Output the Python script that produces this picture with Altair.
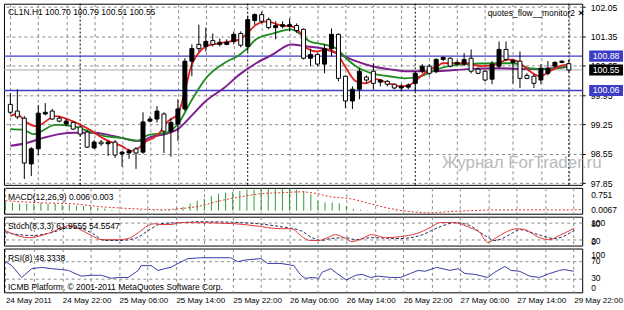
import altair as alt
import pandas as pd

FONT = "Liberation Sans"
W = 581
H_MAIN, H_MACD, H_STO, H_RSI = 182, 26, 29, 44
GRID = "#8a8a8a"
BLUE = "#3c3cc8"

# ---------------- data (bar 0 = 24 May 14:00, bar 80 = 29 May 22:00) ----------------
bar_open = [99.73, 99.57, 99.40, 98.31, 98.67, 99.50, 99.57, 99.40, 99.26, 99.30,
            99.19, 99.07, 98.69, 98.83, 98.79, 98.83, 98.55, 98.57, 98.67, 98.59,
            99.33, 99.38, 99.50, 99.09, 99.26, 99.62, 100.76, 101.16, 101.11, 101.25,
            101.16, 101.16, 101.23, 101.42, 101.11, 101.73, 101.87, 101.75, 101.56, 101.59,
            101.59, 101.61, 101.52, 100.83, 100.92, 100.69, 101.06, 101.40, 100.40, 99.81,
            100.09, 100.38, 100.52, 100.26, 100.28, 100.21, 100.12, 100.14, 100.23, 100.52,
            100.64, 100.52, 100.80, 100.83, 100.69, 100.69, 100.83, 100.57, 100.52, 100.33,
            100.64, 101.04, 100.73, 100.76, 100.42, 100.40, 100.31, 100.47, 100.64, 100.73,
            100.70]
bar_close = [99.54, 99.43, 98.33, 98.67, 99.52, 99.54, 99.38, 99.33, 99.33, 99.14,
             99.02, 98.71, 98.83, 98.79, 98.83, 98.52, 98.59, 98.62, 98.57, 99.31,
             99.38, 99.57, 99.09, 99.30, 99.62, 100.76, 101.06, 101.06, 101.23, 101.16,
             101.21, 101.21, 101.40, 101.14, 101.75, 101.87, 101.71, 101.56, 101.61, 101.63,
             101.63, 101.49, 100.83, 100.92, 100.69, 101.06, 101.40, 100.35, 99.81, 100.09,
             100.52, 100.31, 100.23, 100.31, 100.21, 100.12, 100.16, 100.19, 100.47, 100.64,
             100.47, 100.80, 100.85, 100.64, 100.73, 100.80, 100.52, 100.47, 100.31, 100.69,
             101.04, 100.80, 100.78, 100.35, 100.35, 100.23, 100.59, 100.59, 100.73, 100.76,
             100.55]
bar_high = [100.00, 100.09, 99.45, 98.71, 99.71, 99.76, 99.62, 99.45, 99.38, 99.31,
            99.24, 99.12, 98.88, 98.88, 98.86, 98.88, 98.62, 98.67, 98.71, 99.54,
            99.45, 99.69, 99.54, 99.40, 99.85, 100.83, 101.16, 101.63, 101.56, 101.42,
            101.30, 101.28, 101.47, 101.47, 101.84, 101.90, 101.94, 101.80, 101.71, 101.71,
            101.78, 101.66, 101.54, 101.06, 100.95, 101.16, 101.54, 101.42, 100.42, 100.16,
            100.59, 100.42, 100.71, 100.33, 100.31, 100.23, 100.21, 100.23, 100.52, 100.69,
            100.69, 100.83, 100.87, 100.85, 100.78, 100.95, 101.04, 100.61, 100.54, 100.76,
            101.23, 101.23, 100.80, 100.99, 100.47, 100.45, 100.69, 100.76, 100.76, 100.78,
            100.79]
bar_low = [99.50, 99.38, 97.95, 98.02, 98.52, 99.47, 99.36, 99.30, 99.21, 99.12,
           98.97, 98.69, 98.67, 98.74, 98.50, 98.45, 98.24, 98.43, 98.19, 98.55,
           99.30, 99.30, 98.57, 98.48, 98.86, 99.57, 100.40, 100.99, 100.99, 101.11,
           101.11, 101.14, 101.16, 101.09, 100.99, 101.63, 101.66, 101.52, 101.28, 101.54,
           101.47, 101.44, 100.80, 100.64, 100.64, 100.47, 100.87, 100.28, 99.64, 99.62,
           99.85, 100.23, 100.09, 100.16, 100.16, 100.09, 100.04, 100.09, 100.04, 100.47,
           100.42, 100.47, 100.76, 100.61, 100.66, 100.64, 100.47, 100.45, 100.28, 100.21,
           100.59, 100.76, 100.23, 100.12, 100.33, 100.12, 100.21, 100.42, 100.61, 100.71,
           100.51]

red_k = [0, 0.9, 2.3, 3.7, 6.5, 8.9, 11.2, 13.5, 15.9, 17.3, 18.2, 19.6, 20.5, 21.2, 22.6,
         24.0, 25.0, 25.9, 26.8, 28.0, 29.7, 31.5, 32.9, 33.9, 35.2, 36.7, 38.8, 40.2, 41.6,
         42.5, 43.9, 45.3, 46.7, 48.1, 49.5, 50.9, 52.3, 54.2, 56.0, 57.4, 58.8, 60.2, 61.2,
         61.9, 65.1, 67.5, 69.8, 71.2, 72.6, 74.0, 75.9, 77.3, 78.7, 80.1]
red_v = [99.45, 99.50, 99.30, 99.21, 99.45, 99.33, 99.14, 98.90, 98.74, 98.62, 98.67, 98.86,
         98.93, 99.02, 99.33, 99.50, 100.04, 100.64, 100.92, 101.11, 101.18, 101.23, 101.28,
         101.42, 101.63, 101.71, 101.61, 101.59, 101.42, 101.06, 100.99, 101.04, 100.95,
         100.59, 100.28, 100.23, 100.33, 100.23, 100.16, 100.21, 100.40, 100.57, 100.64,
         100.71, 100.71, 100.64, 100.69, 100.80, 100.76, 100.57, 100.40, 100.52, 100.64, 100.69]
green_k = [0, 1.9, 3.3, 6.5, 8.9, 11.2, 13.5, 15.9, 18.2, 19.8, 22.2, 24.0, 25.9, 28.0, 30.6,
           32.9, 33.9, 35.2, 37.6, 40.2, 41.6, 42.9, 44.8, 46.7, 48.1, 49.5, 51.8, 54.2, 56.5,
           58.8, 61.2, 62.8, 65.1, 69.8, 72.1, 74.5, 76.9, 80.1]
green_v = [99.14, 99.12, 99.02, 99.24, 99.21, 99.09, 98.97, 98.93, 98.86, 99.00, 99.05, 99.26,
           99.81, 100.35, 100.71, 100.92, 101.06, 101.28, 101.42, 101.52, 101.40, 101.23,
           101.16, 101.06, 100.83, 100.64, 100.47, 100.40, 100.35, 100.40, 100.57, 100.64,
           100.69, 100.71, 100.71, 100.59, 100.57, 100.64]
purple_k = [0, 2.3, 4.7, 7.0, 9.3, 12.1, 13.5, 15.9, 18.2, 19.1, 19.8, 22.2, 24.0, 25.9, 28.0,
            30.6, 32.9, 35.2, 37.6, 40.2, 42.5, 44.8, 47.2, 49.5, 51.8, 54.2, 56.5, 61.2, 65.4,
            69.8, 74.5, 79.1, 80.1]
purple_v = [98.74, 98.81, 98.93, 99.02, 99.05, 99.05, 99.02, 98.93, 98.86, 98.86, 98.93, 99.02,
            99.14, 99.45, 99.81, 100.12, 100.45, 100.71, 100.92, 101.16, 101.11, 101.06, 100.92,
            100.76, 100.64, 100.57, 100.52, 100.52, 100.57, 100.59, 100.57, 100.61, 100.64]

macd_hist = [0.26, 0.26, 0.23, 0.23, 0.23, 0.26, 0.23, 0.23, 0.20, 0.20,
             0.16, 0.16, 0.13, 0.10, 0.07, 0.03, 0.02, 0.01, 0.01, 0.02,
             0.03, 0.02, 0.03, 0.03, 0.07, 0.13, 0.23, 0.33, 0.39, 0.49,
             0.56, 0.59, 0.62, 0.65, 0.69, 0.69, 0.72, 0.72, 0.72, 0.72,
             0.72, 0.69, 0.65, 0.55, 0.33, 0.27, 0.27, 0.24, 0.16, 0.06,
             0.03, 0.01, 0.0, -0.01, -0.02, -0.02, -0.02, -0.01, -0.01, 0.0,
             0.01, 0.01, 0.01, 0.01, 0.01, 0.01, 0.0, 0.0, 0.0, 0.0,
             0.01, 0.01, 0.01, 0.0, 0.0, 0.0, 0.0, 0.0, 0.01, 0.01,
             0.006]
macd_sig_k = [0, 5.1, 9.3, 13.5, 17.7, 22.2, 24.7, 27.5, 30.3, 33.2, 36.0, 38.8, 41.6, 43.2,
              45.8, 48.6, 51.4, 54.2, 57.0, 59.8, 62.6, 65.4, 69.6, 73.8, 78.0, 81.2]
macd_sig_v = [0.33, 0.26, 0.23, 0.13, 0.07, 0.03, 0.07, 0.16, 0.33, 0.46, 0.56, 0.59, 0.62,
              0.59, 0.46, 0.39, 0.23, 0.07, -0.03, -0.07, -0.03, 0.0, 0.03, 0.03, 0.03, 0.03]

sto_k = [0, 0.9, 3.3, 5.1, 7.0, 8.9, 10.3, 12.1, 13.5, 15.9, 17.3, 18.7, 20.1, 21.0, 21.9,
         23.3, 24.7, 26.1, 32.2, 35.0, 38.8, 40.2, 42.0, 42.9, 44.1, 45.3, 46.5, 47.9, 48.8,
         50.2, 51.6, 53.5, 55.6, 57.9, 59.8, 61.2, 63.0, 65.4, 66.8, 67.9, 69.1, 70.3, 72.0,
         73.1, 75.2, 76.6, 78.0, 80.1]
sto_v = [53, 43, 28, 36, 53, 71, 60, 36, 21, 21, 25, 46, 71, 78, 75, 75, 82, 82, 78, 71,
         60, 60, 28, 18, 18, 28, 39, 25, 14, 25, 39, 28, 32, 43, 64, 82, 82, 64, 46, 11,
         28, 46, 60, 57, 28, 21, 36, 62]
sig_k = [0, 3.7, 6.5, 9.3, 12.1, 14.0, 15.9, 18.2, 20.5, 21.9, 24.7, 27.5, 33.2, 38.8, 41.6,
         43.2, 44.4, 45.8, 47.9, 49.3, 51.4, 55.6, 58.4, 61.2, 63.3, 65.4, 67.5, 68.9, 71.0,
         72.4, 74.5, 77.3, 80.1]
sig_v = [46, 36, 46, 67, 46, 18, 18, 25, 60, 78, 82, 85, 82, 67, 53, 28, 18, 25, 28, 21,
         28, 25, 36, 67, 82, 71, 36, 18, 39, 57, 43, 25, 55]

rsi_k = [0, 0.9, 2.3, 3.7, 5.1, 6.5, 7.9, 8.9, 9.8, 10.7, 12.1, 13.5, 14.9, 15.9, 17.3, 18.7,
         19.1, 20.5, 21.5, 22.4, 23.3, 24.3, 25.7, 27.5, 31.7, 32.7, 33.9, 36.0, 36.9, 38.8,
         40.6, 41.6, 42.2, 43.2, 44.1, 44.6, 45.8, 46.7, 48.0, 49.3, 50.2, 51.4, 52.5, 54.2,
         55.6, 57.0, 58.1, 59.1, 60.7, 62.6, 63.7, 64.7, 66.1, 67.9, 68.9, 70.3, 71.2, 72.4,
         73.8, 75.2, 76.6, 78.0, 78.7, 80.0]
rsi_v = [70, 61, 34, 54, 57, 54, 52, 50, 43, 37, 39, 39, 32, 34, 34, 50, 61, 61, 50, 54,
         57, 66, 77, 79, 79, 70, 74, 77, 66, 66, 61, 39, 32, 34, 32, 46, 54, 43, 28, 39,
         41, 34, 37, 34, 34, 43, 50, 48, 57, 50, 54, 43, 41, 34, 46, 59, 50, 48, 37, 34,
         43, 50, 52, 48]

price_ticks = [97.85, 98.55, 99.25, 99.95, 100.65, 101.35, 102.05]
level_lines = [100.88, 100.06]
bid_line = [100.55]
day_sep_bars = [10, 34, 58, 80]
grid_bars = [0, 4, 8, 12, 16, 20, 24, 28, 32, 36, 40, 44, 48, 52, 56, 60, 64, 68, 72, 76, 80]
time_labels = ["24 May 2011", "24 May 22:00", "25 May 06:00", "25 May 14:00", "25 May 22:00",
               "26 May 06:00", "26 May 14:00", "26 May 22:00", "27 May 06:00", "27 May 14:00",
               "29 May 22:00"]

# ---------------- frames ----------------
candles = pd.DataFrame({"k": list(range(len(bar_open))), "open": bar_open, "high": bar_high,
                        "low": bar_low, "close": bar_close})
candles["dir"] = ["up" if c >= o else "down" for o, c in zip(bar_open, bar_close)]

XS = alt.Scale(domain=[-0.2, 81.2], nice=False, zero=False)
label_expr = "datum.value % 8 == 0 ? " + str(time_labels) + "[datum.value / 8] : ''"


def X(bottom=False):
    if bottom:
        ax = alt.Axis(values=grid_bars, grid=True, gridDash=[3, 3], gridColor=GRID, domain=False,
                      ticks=False, labelExpr=label_expr, labelAlign="left", labelFontSize=8.1,
                      labelFont=FONT, labelColor="black", labelPadding=4, title=None,
                      labelOverlap=False, labelBound=False, labelFlush=False)
    else:
        ax = alt.Axis(values=grid_bars, grid=True, gridDash=[3, 3], gridColor=GRID, domain=False,
                      ticks=False, labels=False, title=None)
    return alt.X("k:Q", scale=XS, axis=ax)


def txt(s, x, y, size=8.5, color="black", align="left", weight="normal"):
    return alt.Chart(pd.DataFrame({"t": [s]})).mark_text(
        align=align, baseline="middle", font=FONT, fontSize=size, color=color, fontWeight=weight
    ).encode(x=alt.value(x), y=alt.value(y), text="t:N")


# ---------------- main price panel ----------------
YS = alt.Scale(domain=[97.81, 102.13], nice=False, zero=False)
price_axis = alt.Axis(orient="right", values=price_ticks, grid=True, gridDash=[3, 3],
                      gridColor=GRID, domain=False, tickSize=3, tickColor="black",
                      labelFont=FONT, labelFontSize=8.8, labelColor="black", labelPadding=5,
                      format=".2f", title=None, labelOverlap=False, labelFlush=False)


def Yp(field):
    return alt.Y(field, type="quantitative", scale=YS, axis=price_axis)


def line_df(ks, vs):
    return pd.DataFrame({"k": ks, "v": vs})


seps = alt.Chart(pd.DataFrame({"k": day_sep_bars})).mark_rule(
    color="black", strokeDash=[2, 2], strokeWidth=1).encode(x=X())
hl = alt.Chart(pd.DataFrame({"v": level_lines})).mark_rule(color=BLUE, strokeWidth=1.3).encode(y=Yp("v"))
bid = alt.Chart(pd.DataFrame({"v": bid_line})).mark_rule(color="#a8a8a8", strokeWidth=1).encode(y=Yp("v"))
ma_p = alt.Chart(line_df(purple_k, purple_v)).mark_line(
    color="#7d1f8e", strokeWidth=2, interpolate="monotone", clip=True).encode(x=X(), y=Yp("v"))
ma_g = alt.Chart(line_df(green_k, green_v)).mark_line(
    color="#1e8c1e", strokeWidth=1.8, interpolate="monotone", clip=True).encode(x=X(), y=Yp("v"))
ma_r = alt.Chart(line_df(red_k, red_v)).mark_line(
    color="#e02020", strokeWidth=1.8, interpolate="monotone", clip=True).encode(x=X(), y=Yp("v"))
wicks = alt.Chart(candles).mark_rule(color="black", strokeWidth=1).encode(
    x=X(), y=Yp("low"), y2="high:Q")
bodies = alt.Chart(candles).mark_bar(size=4, stroke="black", strokeWidth=1).encode(
    x=X(), y=Yp("open"), y2="close:Q",
    fill=alt.Fill("dir:N", scale=alt.Scale(domain=["up", "down"], range=["black", "white"]), legend=None))

box_df = pd.DataFrame({"v": [100.88, 100.06, 100.55], "t": ["100.88", "100.06", "100.55"],
                       "c": ["b", "b", "k"]})
BOX_SHAPE = "M-1,-0.33 L1,-0.33 L1,0.33 L-1,0.33 Z"
boxes = alt.Chart(box_df).mark_point(shape=BOX_SHAPE, size=1156, filled=True, opacity=1,
                                     strokeWidth=0).encode(
    y=Yp("v"), x=alt.value(W + 24),
    color=alt.Color("c:N", scale=alt.Scale(domain=["b", "k"], range=[BLUE, "black"]), legend=None))
box_txt = alt.Chart(box_df).mark_text(font=FONT, fontSize=8.8, color="white", align="center",
                                      baseline="middle").encode(
    y=Yp("v"), x=alt.value(W + 24), text="t:N")

main = alt.layer(
    seps, hl, bid, ma_p, ma_g, ma_r, wicks, bodies, boxes, box_txt,
    txt("CL1N.H1  100.70 100.79 100.51 100.55", 4, 8),
    txt("quotes_flow__monitor2", 486, 9),
    txt("×", 580, 9, size=10, align="center", weight="bold"),
    txt("Журнал ForTrader.ru", 440, 160, size=17, color="#b9b9b9"),
).properties(width=W, height=H_MAIN)


# ---------------- indicator helpers ----------------
def labels(scale, rows, dy):
    df = pd.DataFrame({"v": [r[0] for r in rows], "t": [r[1] for r in rows]})
    return alt.Chart(df).mark_text(font=FONT, fontSize=8.5, color="black", align="left",
                                   baseline="middle", dy=dy).encode(
        y=alt.Y("v:Q", scale=scale, axis=None), x=alt.value(W + 9), text="t:N")


# MACD
MS = alt.Scale(domain=[-0.098, 0.752], nice=False, zero=False)
macd_df = pd.DataFrame({"k": list(range(len(macd_hist))), "v": macd_hist, "base": [0.0] * len(macd_hist)})
hist = alt.Chart(macd_df).mark_rule(color="#2f9a2f", strokeWidth=1).encode(
    x=X(), y=alt.Y("base:Q", scale=MS, axis=None), y2="v:Q")
msig = alt.Chart(line_df(macd_sig_k, macd_sig_v)).mark_line(
    color="#e03030", strokeDash=[2, 2], strokeWidth=1, interpolate="monotone", clip=True).encode(
    x=X(), y=alt.Y("v:Q", scale=MS, axis=None))
macd = alt.layer(
    hist, msig,
    labels(MS, [(0.752, "0.751")], 7),
    labels(MS, [(0.0, "0.0067")], -1),
    txt("MACD(12,26,9) 0.006 0.003", 4, 9),
).properties(width=W, height=H_MACD)

# Stochastic
SS = alt.Scale(domain=[0, 103], nice=False, zero=False)
s_lv = alt.Chart(pd.DataFrame({"v": [80, 20]})).mark_rule(
    color=GRID, strokeDash=[3, 3]).encode(y=alt.Y("v:Q", scale=SS, axis=None))
s_main = alt.Chart(line_df(sto_k, sto_v)).mark_line(
    color="#e03a3a", strokeWidth=1, interpolate="monotone", clip=True).encode(
    x=X(), y=alt.Y("v:Q", scale=SS, axis=None))
s_sig = alt.Chart(line_df(sig_k, sig_v)).mark_line(
    color="#2a2a5a", strokeWidth=1, strokeDash=[3, 2], interpolate="monotone", clip=True).encode(
    x=X(), y=alt.Y("v:Q", scale=SS, axis=None))
sto = alt.layer(
    s_lv, s_sig, s_main,
    labels(SS, [(100, "100")], 6),
    labels(SS, [(80, "80"), (20, "20")], 1),
    labels(SS, [(0, "0")], -4),
    txt("Stoch(8,3,3) 61.9555 54.5547", 4, 9),
).properties(width=W, height=H_STO)

# RSI
RS = alt.Scale(domain=[0, 100], nice=False, zero=False)
r_lv = alt.Chart(pd.DataFrame({"v": [70, 30]})).mark_rule(
    color=GRID, strokeDash=[3, 3]).encode(y=alt.Y("v:Q", scale=RS, axis=None))
r_line = alt.Chart(line_df(rsi_k, rsi_v)).mark_line(
    color="#3a3aa8", strokeWidth=1, clip=True).encode(
    x=X(bottom=True), y=alt.Y("v:Q", scale=RS, axis=None))
rsi = alt.layer(
    r_lv, r_line,
    labels(RS, [(100, "100")], 7),
    labels(RS, [(70, "70"), (30, "30")], -1),
    labels(RS, [(0, "0")], -4),
    txt("RSI(8) 48.3338", 4, 10),
    txt("ICMB Platform, © 2001-2011 MetaQuotes Software Corp.", 4, 39),
).properties(width=W, height=H_RSI)

chart = alt.vconcat(main, macd, sto, rsi, spacing=3, bounds="flush").properties(
    padding={"left": 2, "top": 1, "right": 0, "bottom": 0},
    background="white",
).configure_view(stroke="black", strokeWidth=1)

chart.save("out.html", embed_options={"renderer": "svg", "actions": False})
